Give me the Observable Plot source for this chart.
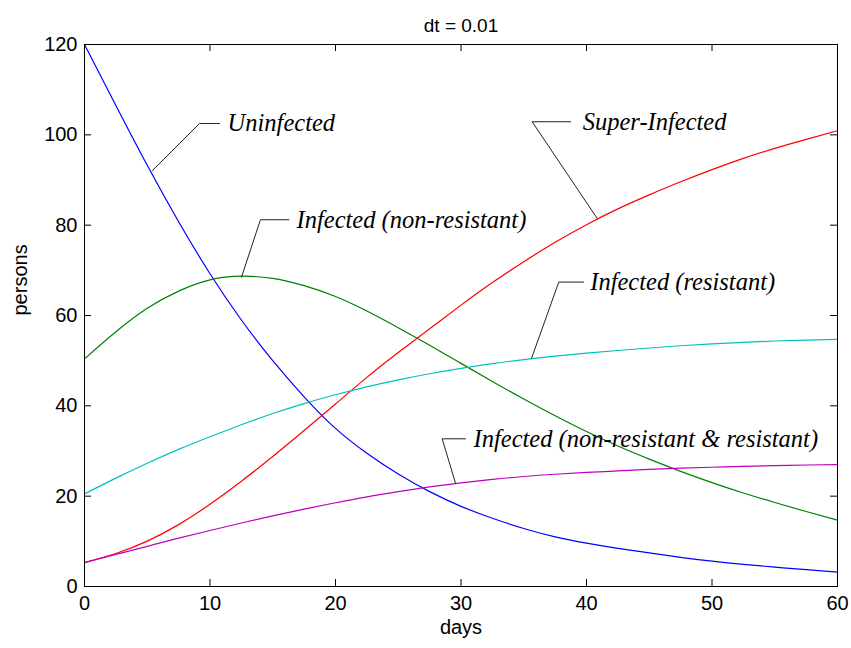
<!DOCTYPE html>
<html>
<head>
<meta charset="utf-8">
<script src="https://cdn.jsdelivr.net/npm/d3@7"></script>
<script src="https://cdn.jsdelivr.net/npm/@observablehq/plot@0.6"></script>
<style>
  html, body { margin: 0; padding: 0; background: #fff; }
  #chart svg { display: block; }
</style>
</head>
<body>
<div id="chart"></div>
<script>
// ---- data ----
const days = [0, 2.5, 5, 7.5, 10, 12.5, 15, 17.5, 20, 22.5, 25, 27.5, 30, 32.5, 35, 37.5, 40, 42.5, 45, 47.5, 50, 52.5, 55, 57.5, 60];
const uninfected = [120, 106.5, 93.25, 80.75, 69.25, 59.0, 50.0, 42.0, 35.0, 29.5, 24.9, 21.0, 17.75, 15.1, 12.85, 11.0, 9.6, 8.45, 7.45, 6.45, 5.6, 4.9, 4.3, 3.72, 3.2];
const nonResistant = [50.4, 56.4, 61.6, 65.4, 67.9, 68.7, 68.2, 66.6, 64.2, 61.0, 57.3, 53.4, 49.4, 45.4, 41.5, 37.8, 34.3, 31.1, 28.2, 25.5, 23.0, 20.7, 18.6, 16.6, 14.7];
const superInfected = [5.3, 7.3, 10.05, 13.7, 18.2, 23.3, 28.8, 34.55, 40.4, 46.3, 51.8, 57.05, 62.3, 67.3, 71.9, 76.2, 80.1, 83.6, 86.7, 89.6, 92.3, 94.8, 97.0, 99.0, 100.9];
const resistant = [20.5, 24.0, 27.3, 30.35, 33.15, 35.8, 38.3, 40.5, 42.45, 44.2, 45.75, 47.1, 48.3, 49.35, 50.25, 51.0, 51.65, 52.25, 52.8, 53.3, 53.72, 54.07, 54.35, 54.55, 54.7];
const both = [5.3, 7.1, 8.9, 10.7, 12.4, 14.05, 15.65, 17.15, 18.55, 19.85, 21.0, 22.05, 22.95, 23.7, 24.35, 24.85, 25.25, 25.6, 25.95, 26.2, 26.4, 26.6, 26.75, 26.9, 27.0];

const seriesNames = ["Uninfected", "Infected (non-resistant)", "Super-Infected", "Infected (resistant)", "Infected (non-resistant & resistant)"];
const seriesValues = [uninfected, nonResistant, superInfected, resistant, both];
const seriesColors = ["#0000ff", "#008000", "#ff0000", "#00bfbf", "#bf00bf"];

const xTicks = [0, 10, 20, 30, 40, 50, 60];
const yTicks = [0, 20, 40, 60, 80, 100, 120];

// annotation anchors in data units: pointer on curve, elbow, end of horizontal, text start
const annPointX = [5.42, 12.51, 40.85, 35.62, 29.56];
const annPointY = [92.1, 68.5, 81.5, 50.5, 22.9];
const annElbowX = [9.16, 14.02, 35.67, 37.79, 28.5];
const annElbowY = [102.5, 81.2, 102.9, 67.4, 32.7];
const annEndX = [10.76, 16.28, 38.73, 39.78, 30.36];
const annTextX = [11.4, 16.9, 39.7, 40.3, 31.0];

const title = "dt = 0.01";
const xLabel = "days";
const yLabel = "persons";

// ---- build tables ----
const lineData = seriesNames.flatMap((name, i) =>
  days.map((d, j) => ({series: name, day: d, value: seriesValues[i][j]})));
const leaderData = seriesNames.flatMap((name, i) => [
  {series: name, x: annPointX[i], y: annPointY[i]},
  {series: name, x: annElbowX[i], y: annElbowY[i]},
  {series: name, x: annEndX[i], y: annElbowY[i]}
]);
const labelData = seriesNames.map((name, i) => ({text: name, x: annTextX[i], y: annElbowY[i]}));

const W = 851, H = 648, ML = 84, MR = 14, MT = 44, MB = 62, TICK = 7;
const frameW = W - ML - MR, frameH = H - MT - MB;

const chart = Plot.plot({
  width: W,
  height: H,
  marginLeft: ML,
  marginRight: MR,
  marginTop: MT,
  marginBottom: MB,
  style: {fontFamily: "'Liberation Sans', Arial, sans-serif", fontSize: "20px", background: "#fff", color: "#000"},
  x: {domain: [0, 60]},
  y: {domain: [0, 120]},
  color: {domain: seriesNames, range: seriesColors},
  marks: [
    Plot.line(lineData, {x: "day", y: "value", z: "series", stroke: "series", strokeWidth: 1.2, curve: "natural"}),
    Plot.line(leaderData, {x: "x", y: "y", z: "series", stroke: "#222", strokeWidth: 1}),
    Plot.text(labelData, {x: "x", y: "y", text: "text", textAnchor: "start", fontFamily: "'Liberation Serif', 'Times New Roman', serif", fontStyle: "italic", fontSize: 24.5, fill: "#000"}),
    Plot.frame({stroke: "#000", strokeWidth: 1}),
    // inward ticks on all four sides of the box
    Plot.ruleX(xTicks, {x: d => d, insetTop: frameH - TICK, stroke: "#000", strokeWidth: 1}),
    Plot.ruleX(xTicks, {x: d => d, insetBottom: frameH - TICK, stroke: "#000", strokeWidth: 1}),
    Plot.ruleY(yTicks, {y: d => d, insetRight: frameW - TICK, stroke: "#000", strokeWidth: 1}),
    Plot.ruleY(yTicks, {y: d => d, insetLeft: frameW - TICK, stroke: "#000", strokeWidth: 1}),
    Plot.axisX({anchor: "bottom", ticks: xTicks, tickSize: 0, tickPadding: 9, label: null, tickFormat: d => d, fontSize: 20}),
    Plot.axisY({anchor: "left", ticks: yTicks, tickSize: 0, tickPadding: 7, label: null, tickFormat: d => d, fontSize: 20}),
    Plot.text([title], {frameAnchor: "top", dy: -26, fontSize: 19}),
    Plot.text([xLabel], {frameAnchor: "bottom", dy: 47, fontSize: 20}),
    Plot.text([yLabel], {frameAnchor: "left", dx: -64, rotate: -90, fontSize: 20})
  ]
});
document.getElementById("chart").appendChild(chart);
</script>
</body>
</html>
